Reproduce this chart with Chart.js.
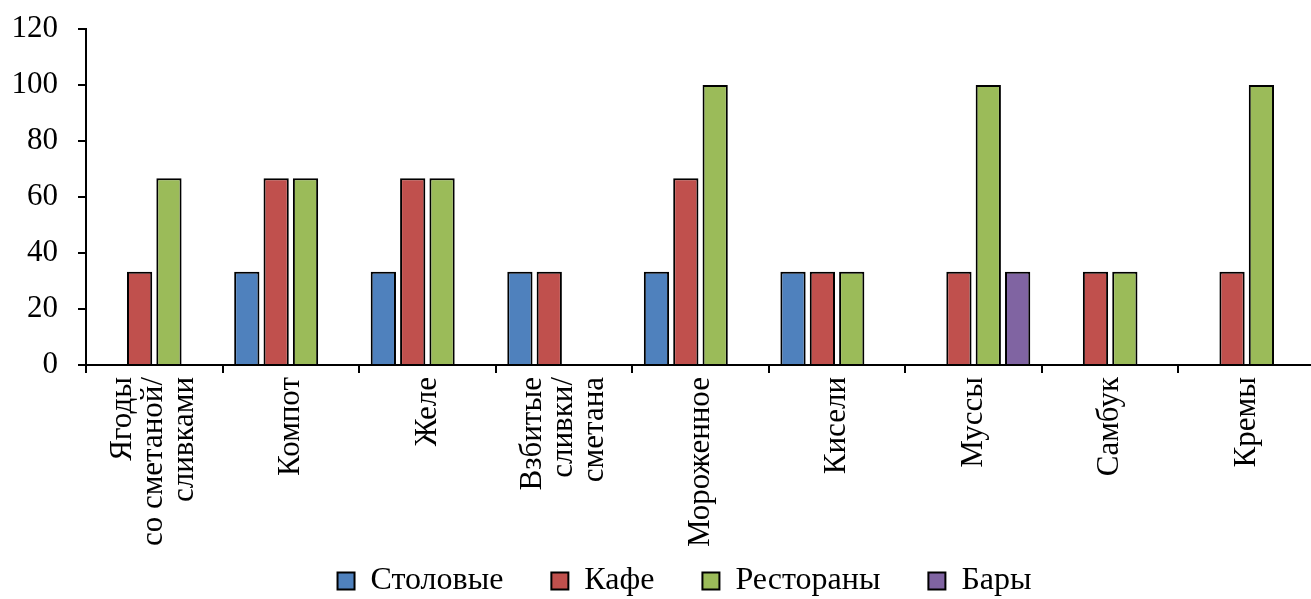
<!DOCTYPE html>
<html>
<head>
<meta charset="utf-8">
<script src="https://cdn.jsdelivr.net/npm/chart.js@4"></script>
<style>
  html, body { margin: 0; padding: 0; background: #fff; overflow: hidden; }
  #wrap { width: 1315px; height: 607px; position: relative; }
</style>
</head>
<body>
<div id="wrap"><canvas id="chart"></canvas></div>
<script>
// Десерты по типам предприятий питания, %
const categories = [
  ['Ягоды', 'со сметаной/', 'сливками'],
  ['Компот'],
  ['Желе'],
  ['Взбитые', 'сливки/', 'сметана'],
  ['Мороженное'],
  ['Кисели'],
  ['Муссы'],
  ['Самбук'],
  ['Кремы']
];
const seriesNames = ['Столовые', 'Кафе', 'Рестораны', 'Бары'];
const stolovye  = [null, 33.3, 33.3, 33.3, 33.3, 33.3, null, null, null];
const kafe      = [33.3, 66.7, 66.7, 33.3, 66.7, 33.3, 33.3, 33.3, 33.3];
const restorany = [66.7, 66.7, 66.7, null, 100, 33.3, 100, 33.3, 100];
const bary      = [null, null, null, null, null, null, 33.3, null, null];
const yTicks = [0, 20, 40, 60, 80, 100, 120];

const colors = ['#4F81BD', '#C0504D', '#9BBB59', '#8064A2'];
const FONT = "'Liberation Serif', 'Times New Roman', serif";
const FS = 31;
const LEGEND_FS = 32;
const LEGEND_SHIFT = 27;

// Подписи категорий: повернутые многострочные, центрированные по категории;
// легенда немного смещена вправо относительно центра холста
const categoryLabelPlugin = {
  id: 'categoryLabels',
  beforeDraw(chart) {
    const lg = chart.legend;
    if (lg && !lg._shifted) {
      lg.left += LEGEND_SHIFT;
      lg.right += LEGEND_SHIFT;
      lg._shifted = true;
    }
  },
  afterUpdate(chart) {
    if (chart.legend) chart.legend._shifted = false;
  },
  afterDraw(chart) {
    const xs = chart.scales.x;
    const ctx = chart.ctx;
    const lh = 31;
    const top = xs.top + 12;
    ctx.save();
    ctx.fillStyle = '#000';
    ctx.font = FS + 'px ' + FONT;
    ctx.textAlign = 'right';
    ctx.textBaseline = 'middle';
    categories.forEach((lines, i) => {
      const x = xs.getPixelForValue(i);
      ctx.save();
      ctx.translate(x, top);
      ctx.rotate(-Math.PI / 2);
      lines.forEach((line, j) => {
        ctx.fillText(line, 0, (j - (lines.length - 1) / 2) * lh);
      });
      ctx.restore();
    });
    ctx.restore();
  }
};

const seriesData = [stolovye, kafe, restorany, bary];

new Chart(document.getElementById('chart'), {
  type: 'bar',
  data: {
    labels: categories.map(l => l.join(' ')),
    datasets: seriesNames.map((name, k) => ({
      label: name,
      data: seriesData[k],
      backgroundColor: colors[k],
      borderColor: '#000',
      borderWidth: 2,
      borderSkipped: 'bottom',
      categoryPercentage: 0.86,
      barPercentage: 0.86
    }))
  },
  options: {
    responsive: true,
    maintainAspectRatio: false,
    animation: false,
    layout: { padding: { top: 29, left: 0, right: 0, bottom: 0 } },
    plugins: {
      tooltip: { enabled: false },
      legend: {
        position: 'bottom',
        labels: {
          color: '#000',
          font: { family: FONT, size: LEGEND_FS },
          boxWidth: 17,
          boxHeight: 17,
          padding: 48
        }
      }
    },
    scales: {
      x: {
        afterFit(s) { s.height = 152; },
        grid: {
          display: true,
          offset: true,
          drawOnChartArea: false,
          drawTicks: true,
          tickLength: 8,
          color: '#000',
          lineWidth: 2
        },
        border: { display: true, color: '#000', width: 2 },
        ticks: { display: false }
      },
      y: {
        min: 0,
        max: 120,
        afterFit(s) {
          s.width = 86;
          s.paddingTop = 0;
          s.paddingBottom = 0;
        },
        afterBuildTicks(s) { s.ticks = yTicks.map(v => ({ value: v })); },
        grid: {
          display: true,
          drawOnChartArea: false,
          drawTicks: true,
          tickLength: 8,
          color: '#000',
          lineWidth: 2
        },
        border: { display: true, color: '#000', width: 2 },
        ticks: {
          color: '#000',
          padding: 20,
          font: { family: FONT, size: FS }
        }
      }
    }
  },
  plugins: [categoryLabelPlugin]
});
</script>
</body>
</html>
